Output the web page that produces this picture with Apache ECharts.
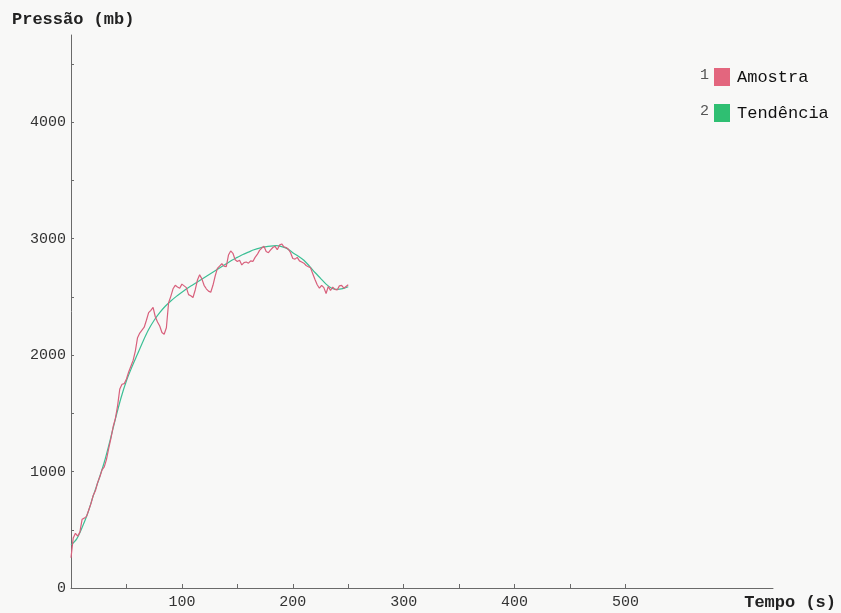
<!DOCTYPE html>
<html>
<head>
<meta charset="utf-8">
<title>Pressão × Tempo</title>
<script src="https://cdn.jsdelivr.net/npm/echarts@6/dist/echarts.min.js"></script>
<style>
  html, body { margin: 0; padding: 0; background: #f8f8f7; }
  #chart { width: 841px; height: 613px; }
</style>
</head>
<body>
<div id="chart"></div>
<script>
// Sample readings (s, mb), every 2 s
const tempoAmostra = [
  0, 2, 4, 6, 8, 10, 12, 14, 16, 18, 20, 22, 24, 26, 28, 30, 32, 34, 36, 38,
  40, 42, 44, 46, 48, 50, 52, 54, 56, 58, 60, 62, 64, 66, 68, 70, 72, 74, 76, 78,
  80, 82, 84, 86, 88, 90, 92, 94, 96, 98, 100, 102, 104, 106, 108, 110, 112, 114, 116, 118,
  120, 122, 124, 126, 128, 130, 132, 134, 136, 138, 140, 142, 144, 146, 148, 150, 152, 154, 156, 158,
  160, 162, 164, 166, 168, 170, 172, 174, 176, 178, 180, 182, 184, 186, 188, 190, 192, 194, 196, 198,
  200, 202, 204, 206, 208, 210, 212, 214, 216, 218, 220, 222, 224, 226, 228, 230, 232, 234, 236, 238,
  240, 242, 244, 246, 248, 250
];
const pressaoAmostra = [
  260, 430, 470, 445, 480, 590, 600, 615, 670, 725, 795, 835, 905, 955, 1015, 1040, 1105, 1200, 1285, 1385,
  1455, 1565, 1710, 1750, 1755, 1795, 1855, 1905, 1955, 2035, 2150, 2190, 2215, 2240, 2300, 2365, 2385, 2410, 2330, 2285,
  2250, 2195, 2180, 2235, 2450, 2505, 2570, 2600, 2585, 2575, 2610, 2595, 2580, 2520, 2510, 2495, 2560, 2645, 2690, 2655,
  2600, 2570, 2550, 2540, 2600, 2680, 2745, 2765, 2785, 2765, 2760, 2860, 2895, 2875, 2820, 2805, 2815, 2775, 2795, 2800,
  2790, 2810, 2805, 2840, 2865, 2900, 2920, 2935, 2890, 2880, 2905, 2925, 2935, 2905, 2945, 2955, 2930, 2925, 2910, 2880,
  2830, 2825, 2840, 2810, 2800, 2790, 2770, 2760, 2750, 2700, 2650, 2605, 2575, 2600, 2580, 2530, 2590, 2555, 2585, 2565,
  2560, 2595, 2600, 2575, 2590, 2605
];

// Fitted trend (s, mb), every 5 s
const tempoTendencia = [
  0, 5, 10, 15, 20, 25, 30, 35, 40, 45, 50, 55, 60, 65, 70, 75, 80, 85, 90, 95,
  100, 105, 110, 115, 120, 125, 130, 135, 140, 145, 150, 155, 160, 165, 170, 175, 180, 185, 190, 195,
  200, 205, 210, 215, 220, 225, 230, 235, 240, 245, 250
];
const pressaoTendencia = [
  370, 420, 520, 640, 790, 930, 1080, 1260, 1450, 1630, 1780, 1900, 2010, 2120, 2220, 2300, 2365, 2420, 2465, 2505,
  2540, 2575, 2605, 2635, 2665, 2695, 2725, 2755, 2785, 2815, 2840, 2865, 2885, 2905, 2920, 2930, 2937, 2940, 2932, 2915,
  2880, 2850, 2815, 2765, 2710, 2660, 2610, 2575, 2565, 2572, 2588
];

// Axis ticks and labels
const xTicks = [50, 100, 150, 200, 250, 300, 350, 400, 450, 500];
const xLabels = [100, 200, 300, 400, 500];
const yTicks = [0, 500, 1000, 1500, 2000, 2500, 3000, 3500, 4000, 4500];
const yLabels = [0, 1000, 2000, 3000, 4000];

const serieNomes = ['Amostra', 'Tendência'];
const cores = ['#e3667e', '#2fbf72'];

const pares = (xs, ys) => xs.map((x, i) => [x, ys[i]]);
const fonte = '"Liberation Mono", "DejaVu Sans Mono", monospace';
const semSeparador = (v) => String(v);

const chart = echarts.init(document.getElementById('chart'), null, { renderer: 'canvas' });

chart.setOption({
  backgroundColor: '#f8f8f7',
  animation: false,
  grid: { left: 71, right: 68, top: 35, bottom: 25, containLabel: false },
  xAxis: {
    type: 'value',
    min: 0,
    max: 633,
    splitLine: { show: false },
    axisLine: { show: true, lineStyle: { color: '#6a6a6a', width: 1 } },
    axisTick: { show: true, inside: true, length: 4, customValues: xTicks, lineStyle: { color: '#6a6a6a' } },
    axisLabel: {
      customValues: xLabels, formatter: semSeparador, margin: 7, color: '#333', fontFamily: fonte, fontSize: 15
    }
  },
  yAxis: {
    type: 'value',
    min: 0,
    max: 4750,
    splitLine: { show: false },
    axisLine: { show: true, lineStyle: { color: '#6a6a6a', width: 1 } },
    axisTick: { show: true, inside: true, length: 3, customValues: yTicks, lineStyle: { color: '#6a6a6a' } },
    axisLabel: {
      customValues: yLabels, formatter: semSeparador, margin: 5, color: '#333', fontFamily: fonte, fontSize: 15
    }
  },
  legend: {
    orient: 'vertical',
    left: 714,
    top: 68,
    padding: 0,
    itemWidth: 16,
    itemHeight: 18,
    itemGap: 18,
    icon: 'rect',
    data: serieNomes,
    textStyle: { fontFamily: fonte, fontSize: 17, color: '#111', padding: [0, 0, 0, 2] }
  },
  graphic: [
    { type: 'text', left: 12, top: 11, style: { text: 'Pressão (mb)', font: 'bold 17px ' + fonte, fill: '#222' } },
    { type: 'text', right: 5, top: 594, style: { text: 'Tempo (s)', font: 'bold 17px ' + fonte, fill: '#222' } },
    { type: 'text', left: 700, top: 68, style: { text: '1', font: '15px ' + fonte, fill: '#555' } },
    { type: 'text', left: 700, top: 104, style: { text: '2', font: '15px ' + fonte, fill: '#555' } }
  ],
  series: [
    {
      name: serieNomes[0],
      type: 'line',
      data: pares(tempoAmostra, pressaoAmostra),
      showSymbol: false,
      color: cores[0],
      lineStyle: { color: '#d8607c', width: 1.2 },
      z: 3
    },
    {
      name: serieNomes[1],
      type: 'line',
      data: pares(tempoTendencia, pressaoTendencia),
      showSymbol: false,
      smooth: 0.3,
      color: cores[1],
      lineStyle: { color: '#3cbf95', width: 1.2 },
      z: 2
    }
  ]
});
</script>
</body>
</html>
